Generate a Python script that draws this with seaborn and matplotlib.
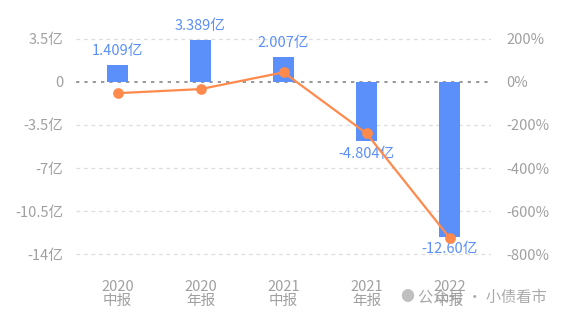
import matplotlib
matplotlib.use("Agg")
import matplotlib.pyplot as plt
import seaborn as sns
import pandas as pd

categories = ["2020\n中报", "2020\n年报", "2021\n中报", "2021\n年报", "2022\n中报"]
profit = [1.409, 3.389, 2.007, -4.804, -12.60]
profit_labels = ["1.409亿", "3.389亿", "2.007亿", "-4.804亿", "-12.60亿"]
growth = [-52, -33, 45, -239, -724]
left_ticks = [3.5, 0, -3.5, -7, -10.5, -14]
left_tick_labels = ["3.5亿", "0", "-3.5亿", "-7亿", "-10.5亿", "-14亿"]
right_ticks = [200, 0, -200, -400, -600, -800]
right_tick_labels = ["200%", "0%", "-200%", "-400%", "-600%", "-800%"]

sns.set_theme(style="white")
plt.rcParams["font.family"] = ["Noto Sans CJK SC", "DejaVu Sans"]

BLUE = "#5B8FF9"
ORANGE = "#FF8A4C"
GRAY = "#A0A0A0"

df = pd.DataFrame({"cat": categories, "profit": profit, "growth": growth})

fig = plt.figure(figsize=(5.61, 3.20), dpi=100)
ax = fig.add_axes([76 / 561, 1 - 266.3 / 320, (491 - 76) / 561, (266.3 - 26.7) / 320])

sns.barplot(data=df, x="cat", y="profit", color=BLUE, width=0.25, ax=ax,
            saturation=1, edgecolor="none")
ax.set_ylim(-15, 4.5)
ax.set_xlim(-0.5, 4.5)

for y in left_ticks:
    if y == 0:
        ax.axhline(0, color="#888888", lw=1.2, ls=(0, (2, 3)), zorder=0.5)
    else:
        ax.axhline(y, color="#DDDDDD", lw=0.9, ls=(0, (3, 3)), zorder=0.5)

ax.set_yticks(left_ticks)
ax.set_yticklabels(left_tick_labels)
ax.tick_params(axis="y", length=0, pad=9, labelsize=10.5, labelcolor=GRAY)
ax.tick_params(axis="x", length=0, pad=10, labelsize=10.5, labelcolor=GRAY)
ax.set_xlabel("")
ax.set_ylabel("")
for s in ax.spines.values():
    s.set_visible(False)
for lbl in ax.get_xticklabels():
    lbl.set_linespacing(0.95)

for i, (v, t) in enumerate(zip(profit, profit_labels)):
    if v >= 0:
        ax.annotate(t, (i, v), xytext=(0, 5), textcoords="offset points",
                    ha="center", va="bottom", color=BLUE, fontsize=10.5)
    else:
        ax.annotate(t, (i, v), xytext=(0, -4), textcoords="offset points",
                    ha="center", va="top", color=BLUE, fontsize=10.5)

ax2 = ax.twinx()
sns.pointplot(data=df, x="cat", y="growth", color=ORANGE, ax=ax2,
              markers="o", markersize=6.5, linewidth=1.6)
ax2.set_ylim(-15 * 200 / 3.5, 4.5 * 200 / 3.5)
ax2.set_xlim(-0.5, 4.5)
ax2.set_yticks(right_ticks)
ax2.set_yticklabels(right_tick_labels)
ax2.tick_params(axis="y", length=0, pad=11, labelsize=10.5, labelcolor=GRAY)
ax2.set_ylabel("")
ax2.set_xlabel("")
ax2.grid(False)
for s in ax2.spines.values():
    s.set_visible(False)

fig.text(418 / 561, 1 - 297 / 320, "公众号 · 小债看市", fontsize=11,
         color="#9A9A9A", alpha=0.85, va="center", ha="left")
fig.text(400 / 561, 1 - 297 / 320, "●", fontsize=10,
         color="#B0B0B0", alpha=0.8, va="center", ha="left")

fig.savefig("out.png", dpi=100)
